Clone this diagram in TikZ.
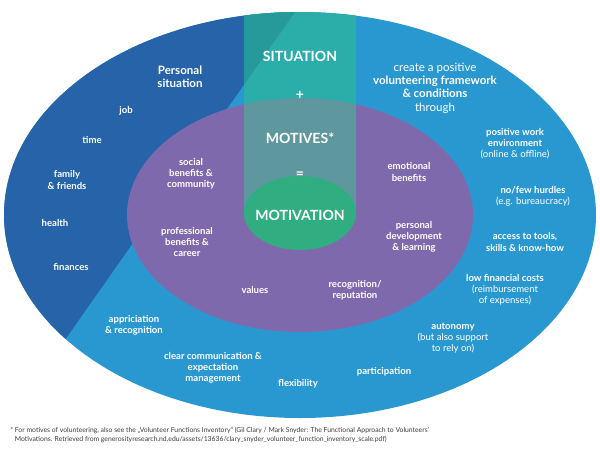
\documentclass[tikz,border=0pt]{standalone}
\usepackage{fontspec}
\setmainfont{Lato}
\usepackage{xcolor}

\definecolor{sitblue}{HTML}{2663A8}
\definecolor{frameblue}{HTML}{2A98D0}
\definecolor{motpurple}{HTML}{7F69AD}
\definecolor{colteal}{HTML}{2BADA9}
\definecolor{colteald}{HTML}{26999B}
\definecolor{colgrey}{HTML}{5F979E}
\definecolor{motgreen}{HTML}{30AE82}
\definecolor{notegrey}{HTML}{3A3A3A}

\tikzset{
  lbl/.style={text=white, font=\fontsize{6.8}{7.9}\selectfont\bfseries, align=center, inner sep=0pt},
  head/.style={text=white, font=\fontsize{8.2}{9.5}\selectfont\bfseries, align=center, inner sep=0pt},
  big/.style={text=white, font=\fontsize{10}{12}\selectfont\bfseries, inner sep=0pt},
}

\begin{document}
\begin{tikzpicture}[x=0.025cm, y=-0.025cm]
        \useasboundingbox (0,0) rectangle (600,450);

        % Outer ellipse (framework)
        \fill[frameblue] (300,215) ellipse [x radius=296, y radius=203];

        % Personal situation sector
        \begin{scope}
            \clip (300,215) ellipse [x radius=296, y radius=203];
            \fill[sitblue] (303.4,0) -- (-12.3,450) -- (-20,450) -- (-20,0) -- cycle;
        \end{scope}

        % Motives ellipse
        \fill[motpurple] (300,215) ellipse [x radius=173, y radius=117];

        % Centre column
        \begin{scope}
            \clip (244,0) rectangle (356,213);
            \clip (300,215) ellipse [x radius=296, y radius=203];
            \fill[colteal] (244,0) rectangle (356,213);
            \fill[colteald] (303.4,0) -- (-12.3,450) -- (-20,450) -- (-20,0) -- cycle;
            \fill[colgrey] (300,215) ellipse [x radius=173, y radius=117];
        \end{scope}

        % Motivation ellipse
        \fill[motgreen] (300,213) ellipse [x radius=56, y radius=37];

        % Centre column texts
        \node[big] (situation) at (300,56) {SITUATION};
        \node[big] (plus) at (300,95) {+};
        \node[big] (motives) at (300,138) {MOTIVES*};
        \node[big] (equals) at (300,175) {=};
        \node[big] (motivation) at (300,215) {MOTIVATION};

        % Personal situation
        \node[head] (personal) at (180,77) {Personal\\situation};
        \node[lbl] (job) at (126,111) {job};
        \node[lbl] (time) at (92,140) {time};
        \node[lbl] (family) at (67,180) {family\\\& friends};
        \node[lbl] (health) at (55,223) {health};
        \node[lbl] (finances) at (71,267) {finances};

        % Motives
        \node[lbl] (social) at (191,174) {social\\benefits \&\\community};
        \node[lbl] (professional) at (187,242) {professional\\benefits \&\\career};
        \node[lbl] (values) at (255,290) {values};
        \node[lbl] (emotional) at (409,172) {emotional\\benefits};
        \node[lbl] (development) at (414,237) {personal\\development\\\& learning};
        \node[lbl] (reputation) at (355,290) {recognition/\\reputation};

        % Framework
        \node[head] (create) at (435,88) {{\mdseries create a positive}\\volunteering framework\\\& conditions\\{\mdseries through}};
        \node[lbl] (workenv) at (515,144) {positive work\\environment\\{\mdseries (online \& offline)}};
        \node[lbl] (hurdles) at (533,196) {no/few hurdles\\{\mdseries (e.g. bureaucracy)}};
        \node[lbl] (tools) at (525,242) {access to tools,\\skills \& know-how};
        \node[lbl] (costs) at (505,290) {low financial costs\\{\mdseries (reimbursement}\\{\mdseries of expenses)}};
        \node[lbl] (autonomy) at (453,338) {autonomy\\{\mdseries (but also support}\\{\mdseries to rely on)}};
        \node[lbl] (participation) at (384,372) {participation};
        \node[lbl] (flexibility) at (298,384) {flexibility};
        \node[lbl] (communication) at (213,368) {clear communication \&\\expectation\\management};
        \node[lbl] (appreciation) at (134,325) {appriciation\\\& recognition};

        % Footnote
        \node[anchor=west, align=left, inner sep=0pt, text=notegrey,
              font=\fontsize{4.85}{6.4}\selectfont] (note) at (10,434.5)
            {* For motives of volunteering, also see the „Volunteer Functions Inventory“ (Gil Clary / Mark Snyder: The Functional Approach to Volunteers’\\
             \hphantom{* }Motivations. Retrieved from generosityresearch.nd.edu/assets/13636/clary\_snyder\_volunteer\_function\_inventory\_scale.pdf)};
\end{tikzpicture}
\end{document}
